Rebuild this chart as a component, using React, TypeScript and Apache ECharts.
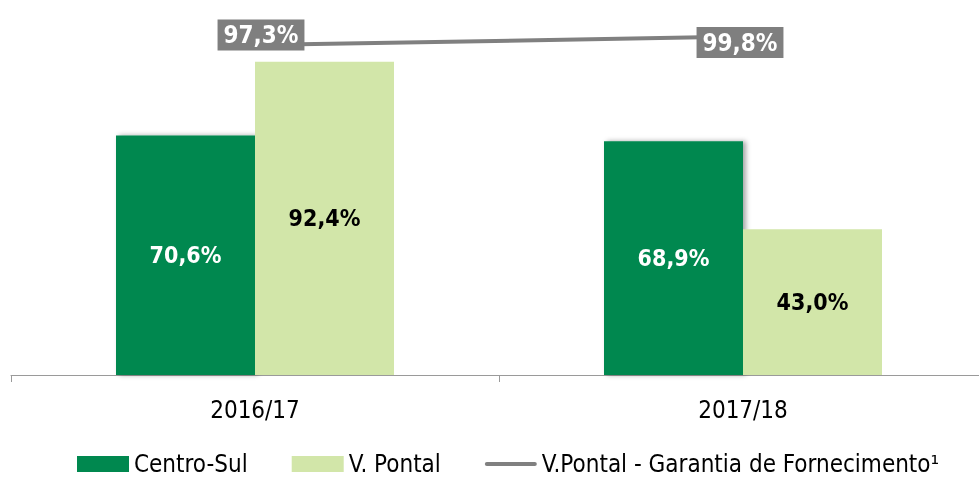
import React, { useEffect, useRef } from "react";
import * as echarts from "echarts";

const categories = ["2016/17", "2017/18"];
const centroSul = [70.6, 68.9];
const vPontal = [92.4, 43.0];
const garantia = [97.3, 99.8];
const seriesNames = ["Centro-Sul", "V. Pontal", "V.Pontal - Garantia de Fornecimento¹"];

const FONT = "'Liberation Sans Narrow', 'DejaVu Sans Condensed', 'Liberation Sans', sans-serif";
const fmt = (v: number) => v.toFixed(1).replace(".", ",") + "%";

export default function App() {
  const ref = useRef<HTMLDivElement>(null);
  useEffect(() => {
    if (!ref.current) return;
    const chart = echarts.init(ref.current, undefined, { renderer: "svg" });
    chart.setOption({
      animation: false,
      textStyle: { fontFamily: FONT },
      grid: { left: 11, right: 0, top: 2, bottom: 102, containLabel: false },
      legend: {
        left: 77,
        top: 452,
        padding: 0,
        itemWidth: 52,
        itemHeight: 16,
        itemGap: 44,
        textStyle: { fontFamily: FONT, fontSize: 24, color: "#000", lineHeight: 18 },
        data: [
          { name: seriesNames[0], icon: "rect" },
          { name: seriesNames[1], icon: "rect" },
          { name: seriesNames[2], icon: "path://M2,0 L50,0 A2,2 0 0 1 50,4 L2,4 A2,2 0 0 1 2,0 Z" },
        ],
      },
      xAxis: {
        type: "category",
        data: categories,
        axisLine: { lineStyle: { color: "#9a9a9a", width: 1 } },
        axisTick: { show: true, length: 7, lineStyle: { color: "#9a9a9a" } },
        axisLabel: { fontFamily: FONT, fontSize: 24, color: "#000", margin: 23 },
      },
      yAxis: {
        type: "value",
        min: 0,
        max: 110,
        show: false,
        splitLine: { show: false },
      },
      series: [
        {
          name: seriesNames[0],
          type: "bar",
          data: centroSul,
          barWidth: 139,
          barGap: "0%",
          itemStyle: {
            color: "#00884F",
            shadowBlur: 5,
            shadowOffsetX: 3,
            shadowOffsetY: 0,
            shadowColor: "rgba(0,0,0,0.35)",
          },
          label: {
            show: true,
            position: "inside",
            color: "#fff",
            fontWeight: "bold",
            fontSize: 23,
            fontFamily: FONT,
            formatter: (p: any) => fmt(p.value),
          },
        },
        {
          name: seriesNames[1],
          type: "bar",
          data: vPontal,
          barWidth: 139,
          barGap: "0%",
          itemStyle: { color: "#D2E6A9" },
          label: {
            show: true,
            position: "inside",
            color: "#000",
            fontWeight: "bold",
            fontSize: 23,
            fontFamily: FONT,
            formatter: (p: any) => fmt(p.value),
          },
        },
        {
          name: seriesNames[2],
          type: "line",
          data: [
            { value: garantia[0], label: { offset: [6, -10] } },
            { value: garantia[1], label: { offset: [-3, 6] } },
          ],
          symbol: "circle",
          symbolSize: 1,
          itemStyle: { color: "#808080" },
          lineStyle: { color: "#808080", width: 4 },
          z: 5,
          label: {
            show: true,
            position: "inside",
            color: "#fff",
            fontWeight: "bold",
            fontSize: 24,
            fontFamily: FONT,
            backgroundColor: "#7f7f7f",
            padding: [4, 6, 3, 6],
            formatter: (p: any) => fmt(p.value),
          },
        },
      ],
    });
    return () => chart.dispose();
  }, []);
  return (
    <div style={{ width: 979, height: 477, position: "fixed", left: 0, top: 0, overflow: "hidden" }}>
      <div ref={ref} style={{ width: 987, height: 477 }} />
    </div>
  );
}
